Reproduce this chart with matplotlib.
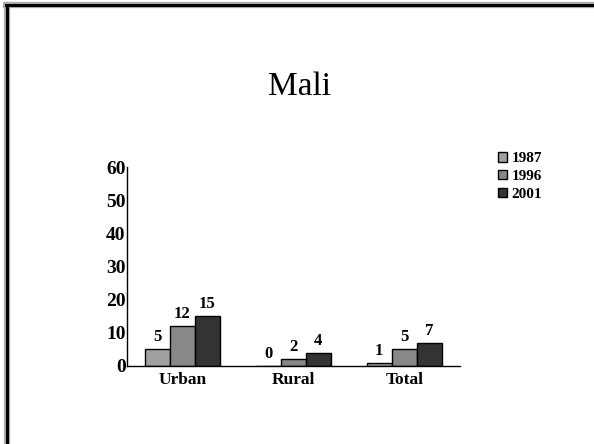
import matplotlib.pyplot as plt
import numpy as np

categories = ['Urban', 'Rural', 'Total']
years = ['1987', '1996', '2001']
values_1987 = [5, 0, 1]
values_1996 = [12, 2, 5]
values_2001 = [15, 4, 7]
colors = ['#a0a0a0', '#888888', '#333333']

plt.rcParams['font.family'] = ['Liberation Serif', 'DejaVu Serif']

fig = plt.figure(figsize=(5.94, 4.44), dpi=100)

# slide frame (top and left edges)
fig.add_artist(plt.Line2D([0.0095, 1.0], [0.9885, 0.9885], color='#aaaaaa', lw=4.5))
fig.add_artist(plt.Line2D([0.0115, 0.0115], [0.0, 0.9885], color='#aaaaaa', lw=4.5))
fig.add_artist(plt.Line2D([0.0095, 1.0], [0.9885, 0.9885], color='black', lw=2.2))
fig.add_artist(plt.Line2D([0.0115, 0.0115], [0.0, 0.9885], color='black', lw=2.2))

fig.text(0.505, 0.805, 'Mali', ha='center', va='center', fontsize=24)

ax = fig.add_axes([0.2138, 0.1757, 0.56, 0.448])
x = np.arange(len(categories))
w = 0.225
series = [values_1987, values_1996, values_2001]
for i, (vals, yr, c) in enumerate(zip(series, years, colors)):
    pos = x + (i - 1) * w
    ax.bar(pos, vals, width=w, color=c, edgecolor='black', linewidth=1.0, label=yr)
    for p, v in zip(pos, vals):
        ax.text(p, v + 1.2, str(v), ha='center', va='bottom',
                fontsize=12, fontweight='bold')

ax.set_xlim(-0.5, 2.5)
ax.set_ylim(0, 60)
ax.set_yticks(range(0, 61, 10))
ax.set_xticks(x)
ax.set_xticklabels(categories, fontsize=12.5, fontweight='bold')
for lbl in ax.get_yticklabels():
    lbl.set_fontsize(14)
    lbl.set_fontweight('bold')
ax.tick_params(axis='y', length=0, pad=1)
ax.tick_params(axis='x', length=0, pad=4)
ax.spines['top'].set_visible(False)
ax.spines['right'].set_visible(False)
ax.spines['left'].set_linewidth(1.0)
ax.spines['bottom'].set_linewidth(1.0)

leg = fig.legend(loc='upper left', bbox_to_anchor=(0.825, 0.675), frameon=False,
                 prop={'weight': 'bold', 'size': 11}, handlelength=0.6,
                 handleheight=0.6, handletextpad=0.3, labelspacing=0.3,
                 borderpad=0)

fig.savefig('out.png', dpi=100)
